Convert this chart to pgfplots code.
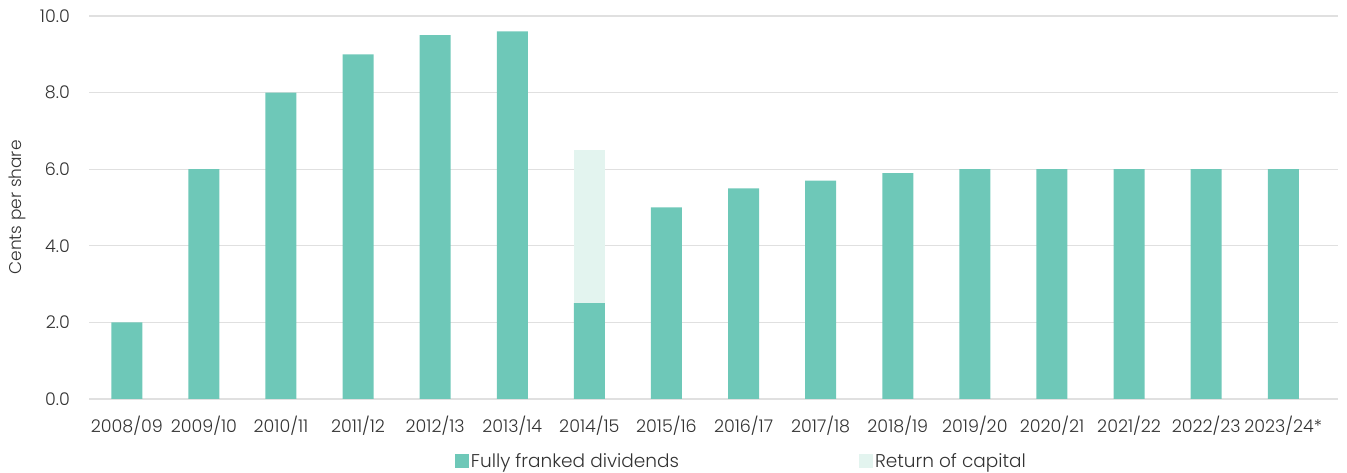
\documentclass[border=0pt]{standalone}
\usepackage{pgfplots}
\pgfplotsset{compat=1.18}
\usepackage{fontspec}
\setmainfont{Poppins Light}
\definecolor{teal1}{HTML}{6EC8B8}
\definecolor{teal2}{HTML}{E3F4EF}
\definecolor{gridc}{HTML}{E0E0E0}
\definecolor{txt}{HTML}{333333}
\begin{document}
\begin{tikzpicture}
\useasboundingbox (-89pt,-74pt) rectangle (1258pt,399pt);
\begin{axis}[
  at={(0pt,0pt)}, anchor=south west,
  scale only axis,
  width=1249pt, height=383pt,
  ybar stacked, bar width=31pt,
  xmin=-0.49, xmax=15.71,
  ymin=0, ymax=10,
  xtick=data,
  xticklabels={2008/09,2009/10,2010/11,2011/12,2012/13,2013/14,2014/15,2015/16,2016/17,2017/18,2018/19,2019/20,2020/21,2021/22,2022/23,2023/24*},
  ytick={0,2,4,6,8,10},
  ymajorgrids, major grid style={gridc, line width=1.2pt},
  axis line style={draw=none},
  tick style={draw=none},
  /pgf/number format/assume math mode=true,
  yticklabel style={/pgf/number format/fixed, /pgf/number format/fixed zerofill, /pgf/number format/precision=1, anchor=east, inner xsep=0pt, xshift=-19pt},
  ticklabel style={font=\fontsize{17.5}{21}\selectfont, text=txt},
  xticklabel style={anchor=center, yshift=-27pt},
  ylabel={Cents per share},
  label style={font=\fontsize{17}{20}\selectfont, text=txt},
  ylabel style={at={(axis description cs:-0.0576,0.5)}, anchor=center},
  legend columns=2,
  legend style={at={(0.5224,-0.162)}, anchor=center, draw=none, fill=none,
    font=\fontsize{18.5}{22}\selectfont, text=txt,
    /tikz/every even column/.append style={column sep=178pt}},
  legend image code/.code={\fill[#1] (0pt,-7pt) rectangle (14pt,7pt);},
]
\addplot[fill=teal1, draw=none] coordinates {
(0,2.0) (1,6.0) (2,8.0) (3,9.0) (4,9.5) (5,9.6) (6,2.5) (7,5.0) (8,5.5) (9,5.7) (10,5.9) (11,6.0) (12,6.0) (13,6.0) (14,6.0) (15,6.0)};
\addlegendentry{Fully franked dividends}
\addplot[fill=teal2, draw=none] coordinates {
(0,0) (1,0) (2,0) (3,0) (4,0) (5,0) (6,4.0) (7,0) (8,0) (9,0) (10,0) (11,0) (12,0) (13,0) (14,0) (15,0)};
\addlegendentry{Return of capital}
\end{axis}
\end{tikzpicture}
\end{document}
